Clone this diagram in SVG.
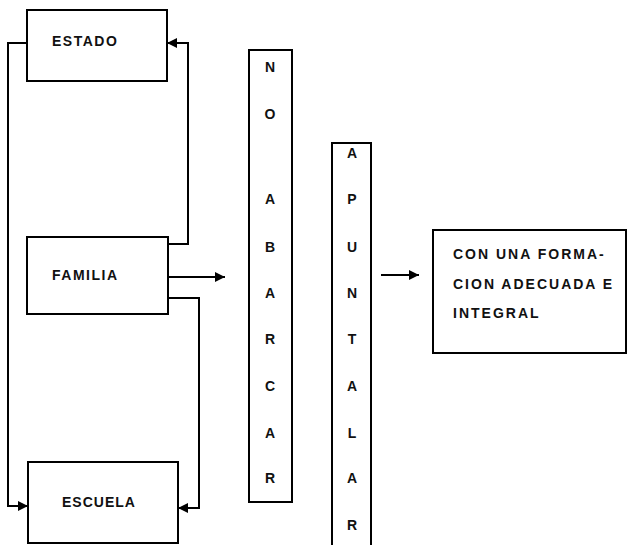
<svg xmlns="http://www.w3.org/2000/svg" width="628" height="545" viewBox="0 0 628 545">
<defs>
<marker id="ah" viewBox="0 0 10 10" refX="10" refY="5" markerWidth="10" markerHeight="10" markerUnits="userSpaceOnUse" orient="auto">
<path d="M0,0 L10,5 L0,10 Z" fill="#000"/>
</marker>
<style>
.box{fill:#fff;stroke:#000;stroke-width:2}
.lbl{font-family:"Liberation Sans",Arial,sans-serif;font-weight:bold;font-size:14px;fill:#111;letter-spacing:1.5px}
.col{font-family:"Liberation Sans",Arial,sans-serif;font-weight:bold;font-size:14px;fill:#111;text-anchor:middle}
.txt{font-family:"Liberation Sans",Arial,sans-serif;font-weight:bold;font-size:14px;fill:#111;letter-spacing:2px}
.con{fill:none;stroke:#000;stroke-width:2}
</style>
</defs>
<rect width="628" height="545" fill="#fff"/>
<g id="connectors">
<path class="con" d="M27,43 H8 V506 H28" marker-end="url(#ah)"/>
<path class="con" d="M168,244 H188 V43 H167" marker-end="url(#ah)"/>
<path class="con" d="M168,277 H225" marker-end="url(#ah)"/>
<path class="con" d="M168,298 H199 V508 H178" marker-end="url(#ah)"/>
<path class="con" d="M381,275 H419" marker-end="url(#ah)"/>
</g>
<g id="estado">
<rect class="box" x="27" y="10" width="140" height="71"/>
<text class="lbl" x="52" y="46">ESTADO</text>
</g>
<g id="familia">
<rect class="box" x="27" y="237" width="141" height="77"/>
<text class="lbl" x="52" y="280">FAMILIA</text>
</g>
<g id="escuela">
<rect class="box" x="28" y="462" width="150" height="81"/>
<text class="lbl" x="62" y="507" style="letter-spacing:1px">ESCUELA</text>
</g>
<g id="no-abarcar">
<rect class="box" x="249" y="50" width="43" height="452"/>
<text class="col" x="270" y="72">N</text>
<text class="col" x="270" y="119">O</text>
<text class="col" x="270" y="204">A</text>
<text class="col" x="270" y="252">B</text>
<text class="col" x="270" y="298">A</text>
<text class="col" x="270" y="344">R</text>
<text class="col" x="270" y="391">C</text>
<text class="col" x="270" y="438">A</text>
<text class="col" x="270" y="483">R</text>
</g>
<g id="apuntalar">
<rect class="box" x="332" y="143" width="39" height="410"/>
<text class="col" x="352" y="158">A</text>
<text class="col" x="352" y="204">P</text>
<text class="col" x="352" y="252">U</text>
<text class="col" x="352" y="298">N</text>
<text class="col" x="352" y="344">T</text>
<text class="col" x="352" y="391">A</text>
<text class="col" x="352" y="438">L</text>
<text class="col" x="352" y="483">A</text>
<text class="col" x="352" y="530">R</text>
</g>
<g id="formacion">
<rect class="box" x="433" y="230" width="193" height="123"/>
<text class="txt" x="453" y="259">CON UNA FORMA-</text>
<text class="txt" x="453" y="289">CION ADECUADA E</text>
<text class="txt" x="453" y="318">INTEGRAL</text>
</g>
</svg>
